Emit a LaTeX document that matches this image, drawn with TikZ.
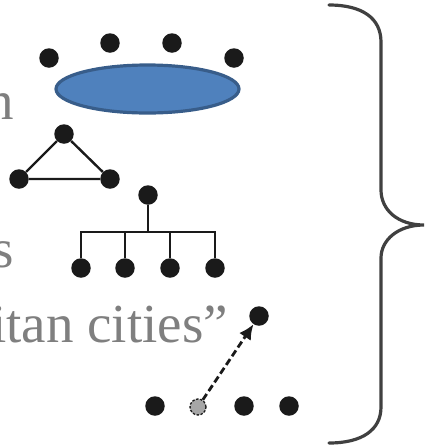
\documentclass[tikz,border=0pt]{standalone}
\usepackage{fontspec}
\setmainfont{Liberation Serif}
\usetikzlibrary{arrows.meta,shapes.geometric}
\definecolor{txtgray}{HTML}{7F7F7F}
\definecolor{dotblack}{HTML}{1A1A1A}
\definecolor{ellfill}{HTML}{4F81BD}
\definecolor{elldraw}{HTML}{385D8A}
\definecolor{bracegray}{HTML}{404040}
\definecolor{ghostgray}{HTML}{A6A6A6}
\tikzset{
  dot/.style={circle,fill=dotblack,inner sep=0pt,minimum size=19.5pt},
  ghost/.style={circle,fill=ghostgray,draw=dotblack,line width=1.3pt,dash pattern=on 2.5pt off 1.5pt,inner sep=0pt,minimum size=16pt},
  edge/.style={draw=dotblack,line width=2.4pt},
  lbl/.style={text=txtgray,inner sep=0pt,anchor=base east,font=\fontsize{55}{60}\selectfont},
}
\begin{document}
\begin{tikzpicture}[x=1pt,y=-1pt]
\useasboundingbox (0,0) rectangle (425,448);
\clip (0,0) rectangle (425,448);
% labels (cut at left edge)
\node[lbl] (t1) at (14,119) {n};
\node[lbl] (t2) at (14,267) {s};
\node[lbl] (t3) at (228,342) {litan cities”};
% group around ellipse
\node[ellipse,fill=ellfill,draw=elldraw,line width=3.2pt,minimum width=183pt,minimum height=48pt,inner sep=0pt] (ell) at (147.5,89) {};
\node[dot] (g1) at (49,58) {};
\node[dot] (g2) at (110,43) {};
\node[dot] (g3) at (172,43) {};
\node[dot] (g4) at (234,58) {};
% triangle
\node[dot] (a) at (64,134) {};
\node[dot] (b) at (19,179) {};
\node[dot] (c) at (110,179) {};
\draw[edge] (a) -- (b) -- (c) -- (a);
% tree
\node[dot] (r) at (148,195) {};
\node[dot] (k1) at (81,268) {};
\node[dot] (k2) at (125,268) {};
\node[dot] (k3) at (170,268) {};
\node[dot] (k4) at (215,268) {};
\coordinate (j) at (148,232);
\draw[edge] (r) -- (j);
\draw[edge,line cap=rect] (k1.center |- j) -- (k4.center |- j);
\draw[edge] (k1.center |- j) -- (k1);
\draw[edge] (k2.center |- j) -- (k2);
\draw[edge] (k3.center |- j) -- (k3);
\draw[edge] (k4.center |- j) -- (k4);
% bottom row with moving node
\node[dot] (m1) at (155,406) {};
\node[ghost] (gh) at (198,407) {};
\node[dot] (m3) at (244,406) {};
\node[dot] (m4) at (289,406) {};
\node[dot] (top) at (259,316) {};
\draw[draw=dotblack,line width=2.8pt,dash pattern=on 7pt off 3.5pt,-{Latex[length=15pt,width=14pt]}] (gh) -- (top);
% brace
\draw[bracegray,line width=3.2pt,line cap=round] (329,5) .. controls (362,5) and (381,18) .. (381,42) -- (381,190)
  .. controls (381,210) and (398,225) .. (424,225)
  .. controls (398,225) and (381,240) .. (381,258) -- (381,407)
  .. controls (381,430) and (362,443) .. (329,443);
\end{tikzpicture}
\end{document}
